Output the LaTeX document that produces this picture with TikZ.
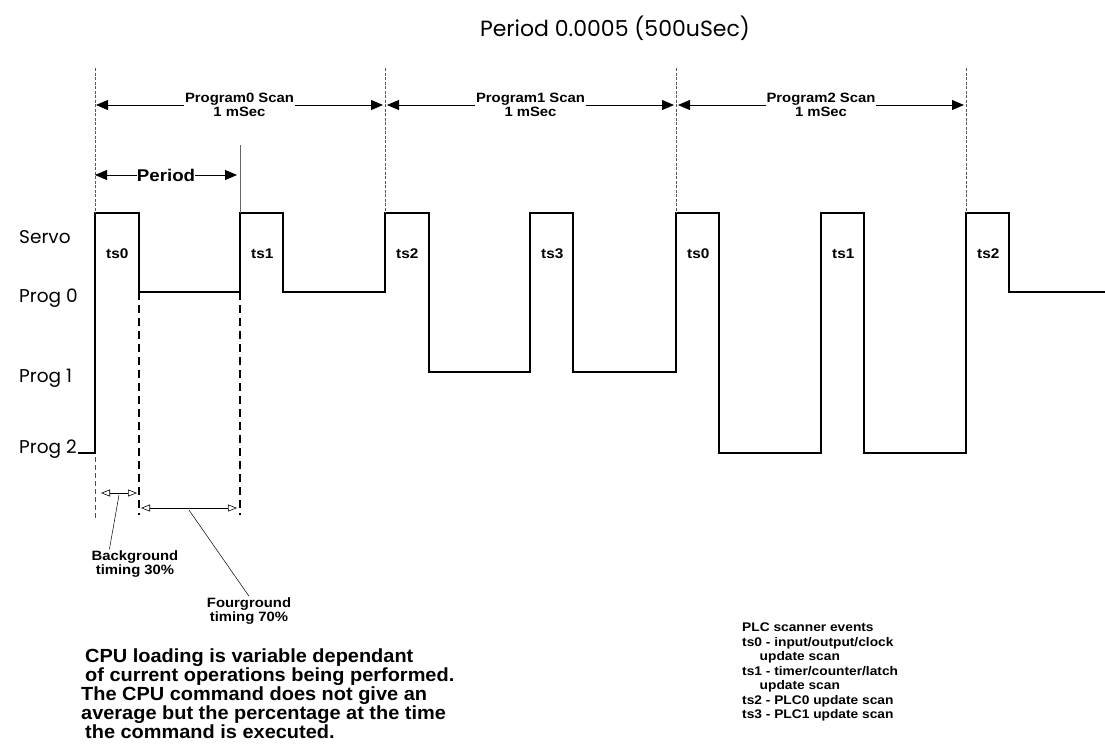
\documentclass[tikz,border=0pt]{standalone}
\usepackage{fontspec}
\setmainfont{Liberation Sans}
\newfontfamily\headfont{Poppins}
\newfontfamily\lblfont[FakeStretch=1.1]{Liberation Sans}
\newfontfamily\notefont[FakeStretch=1.05]{Liberation Sans}
\usetikzlibrary{arrows.meta,positioning}

\begin{document}
\begin{tikzpicture}[x=1pt, y=-1pt,
    every node/.style={inner sep=1pt},
    heading/.style={font=\headfont\fontsize{22}{24}\selectfont},
    rowlbl/.style={font=\headfont\fontsize{18.5}{20}\selectfont, anchor=base west},
    lbl/.style={font=\lblfont\bfseries\fontsize{13.5}{14.5}\selectfont, align=center},
    tslbl/.style={font=\lblfont\bfseries\fontsize{14}{15}\selectfont, anchor=west},
    note/.style={font=\notefont\bfseries\fontsize{19}{17.5}\selectfont, align=left, anchor=north west},
    legend/.style={font=\lblfont\bfseries\fontsize{12.5}{14.5}\selectfont, align=left, anchor=north west},
    wave/.style={line width=1.6pt},
    marker/.style={draw=black!65, line width=0.7pt, dash pattern=on 3pt off 1.5pt},
    split/.style={line width=1.6pt, dash pattern=on 8pt off 5pt},
    span/.style={{Triangle[length=12pt,width=10pt]}-{Triangle[length=12pt,width=10pt]}, line width=0.8pt},
    share/.style={{Triangle[open,length=9pt,width=7pt]}-{Triangle[open,length=9pt,width=7pt]}, line width=0.6pt},
    lead/.style={line width=0.5pt}
  ]
  \useasboundingbox (0,0) rectangle (1105,750);

  \node[heading] (title) at (615,28) {Period 0.0005 (500uSec)};

  \node[rowlbl] (servo) at (18,243) {Servo};
  \node[rowlbl] (prog0) at (18,302) {Prog 0};
  \node[rowlbl] (prog1) at (18,382) {Prog 1};
  \node[rowlbl] (prog2) at (18,453) {Prog 2};

  \draw[wave] (78,453) -| (95,213) -| (139,292) -| (240,213) -| (283,292) -| (385,213)
    -| (429,372) -| (530,213) -| (573,372) -| (676,213) -| (719,453) -| (821,213)
    -| (864,453) -| (966,213) -| (1009,292) -- (1105,292);

  \foreach \x/\t [count=\i] in {95/ts0,240/ts1,385/ts2,530/ts3,676/ts0,821/ts1,966/ts2}
    \node[tslbl] (ts\i) at (\x+10,254) {\t};

  \foreach \x [count=\i from 0] in {95,385,676,966} {
    \coordinate (top\i) at (\x,68);
    \coordinate (edge\i) at (\x,213);
    \coordinate (sc\i) at (\x,105);
    \draw[marker] (top\i) -- (edge\i);
  }

  \draw[span] ([xshift=1pt]sc0) -- ([xshift=-2pt]sc1)
    node[lbl, midway, fill=white] (scan0) {Program0 Scan\\1 mSec};
  \draw[span] ([xshift=2pt]sc1) -- ([xshift=-2pt]sc2)
    node[lbl, midway, fill=white] (scan1) {Program1 Scan\\1 mSec};
  \draw[span] ([xshift=2pt]sc2) -- ([xshift=-2pt]sc3)
    node[lbl, midway, fill=white] (scan2) {Program2 Scan\\1 mSec};

  \coordinate (per0) at (95,175);
  \coordinate (per1) at (237,175);
  \coordinate (pertop) at (240,145);
  \coordinate (perbot) at (240,213);
  \draw[black!60, line width=0.8pt] (pertop) -- (perbot);
  \draw[span] (per0) -- (per1)
    node[midway, fill=white, inner sep=0pt, font=\lblfont\bfseries\fontsize{17}{18}\selectfont] (period) {Period};

  \coordinate (bgtop) at (95,457);
  \coordinate (bgbot) at (95,518);
  \draw[black!70, line width=0.6pt, dash pattern=on 5pt off 3pt] (bgtop) -- (bgbot);
  \coordinate (fg0) at (139,292);
  \coordinate (fg0b) at (139,515);
  \coordinate (fg1) at (240,292);
  \coordinate (fg1b) at (240,515);
  \draw[split] (fg0) -- (fg0b);
  \draw[split] (fg1) -- (fg1b);

  \coordinate (bga) at (101,493);
  \coordinate (bgb) at (137,493);
  \coordinate (fga) at (141,508);
  \coordinate (fgb) at (237,508);
  \draw[share] (bga) -- (bgb) coordinate[midway] (bgmid);
  \draw[share] (fga) -- (fgb) coordinate[midway] (fgmid);

  \node[lbl] (bgnote) at (135,564) {Background\\timing 30\%};
  \node[lbl] (fgnote) at (249,611) {Fourground\\timing 70\%};
  \draw[lead] ([yshift=-2pt]bgmid) -- (bgnote.150);
  \draw[lead] ([yshift=-2pt]fgmid) -- (fgnote.north);

  \node[note] (cpu) at (80,648) {\hspace*{4pt}CPU loading is variable dependant\\
    \hspace*{4pt}of current operations being performed.\\
    The CPU command does not give an\\
    average but the percentage at the time\\
    \hspace*{4pt}the command is executed.};

  \node[legend] (events) at (741,622) {PLC scanner events\\
    ts0 - input/output/clock\\
    \hspace*{1.4em}update scan\\
    ts1 - timer/counter/latch\\
    \hspace*{1.4em}update scan\\
    ts2 - PLC0 update scan\\
    ts3 - PLC1 update scan};
\end{tikzpicture}
\end{document}
